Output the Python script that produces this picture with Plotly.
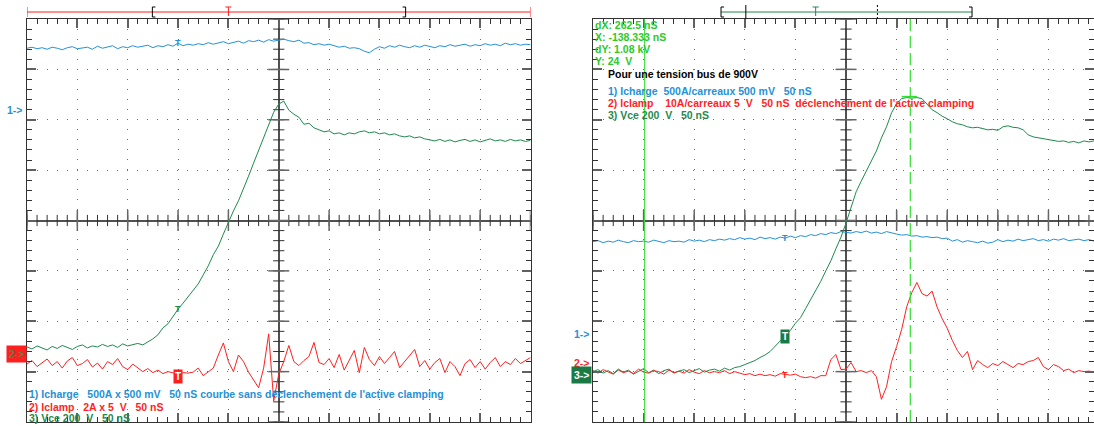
import plotly.graph_objects as go

W, H = 1094, 426

# ---------------- data (time in ns from screen centre, 50 ns/div; values in screen divisions) -------------
t_left = list(range(-250, 251, 5))
t_right = list(range(-250, 246, 5))

left_icharge = [3.42, 3.44, 3.41, 3.43, 3.40, 3.44, 3.42, 3.39, 3.43, 3.45,
                3.41, 3.43, 3.44, 3.40, 3.46, 3.42, 3.44, 3.47, 3.41, 3.45,
                3.43, 3.47, 3.44, 3.46, 3.48, 3.43, 3.47, 3.45, 3.49, 3.46,
                3.52, 3.47, 3.50, 3.48, 3.51, 3.49, 3.53, 3.50, 3.52, 3.55,
                3.51, 3.54, 3.56, 3.52, 3.57, 3.55, 3.58, 3.54, 3.59, 3.56,
                3.58, 3.60, 3.57, 3.55, 3.58, 3.52, 3.53, 3.49, 3.51, 3.48,
                3.50, 3.47, 3.44, 3.46, 3.42, 3.43, 3.41, 3.36, 3.33, 3.40,
                3.45, 3.42, 3.47, 3.44, 3.48, 3.45, 3.43, 3.47, 3.44, 3.48,
                3.46, 3.43, 3.47, 3.45, 3.49, 3.46, 3.48, 3.50, 3.46, 3.49,
                3.47, 3.51, 3.48, 3.50, 3.47, 3.52, 3.49, 3.51, 3.48, 3.50,
                3.49]

left_iclamp = [-2.85, -2.78, -2.90, -2.82, -2.75, -2.88, -2.80, -2.93, -2.79, -2.72,
               -2.88, -2.84, -2.76, -2.91, -2.83, -2.95, -2.80, -2.86, -2.74, -2.90,
               -2.96, -2.85, -2.92, -3.00, -2.94, -3.02, -2.97, -3.04, -3.00, -3.03,
               -3.05, -3.02, -3.03, -3.01, -2.93, -3.08, -3.01, -2.93, -2.67, -2.43,
               -2.80, -3.00, -2.67, -2.80, -3.01, -3.16, -3.32, -2.93, -2.25, -3.58,
               -3.05, -2.80, -2.48, -2.80, -2.88, -2.78, -2.70, -2.42, -2.82, -2.86,
               -2.74, -2.92, -2.66, -2.97, -2.78, -2.58, -3.02, -2.52, -2.76, -2.88,
               -2.70, -2.84, -2.72, -2.60, -2.92, -2.80, -2.66, -2.56, -2.90, -2.78,
               -2.95, -2.82, -2.74, -3.02, -2.80, -2.90, -3.08, -2.84, -2.76, -2.92,
               -2.80, -2.95, -2.82, -2.72, -2.90, -2.80, -2.86, -2.74, -2.84, -2.78,
               -2.72]

left_vce = [-2.51, -2.55, -2.49, -2.53, -2.57, -2.50, -2.54, -2.48, -2.52, -2.56,
            -2.50, -2.47, -2.53, -2.49, -2.51, -2.46, -2.50, -2.47, -2.52, -2.45,
            -2.49, -2.46, -2.44, -2.47, -2.41, -2.35, -2.27, -2.13, -2.05, -1.90,
            -1.76, -1.64, -1.52, -1.40, -1.26, -1.08, -0.90, -0.68, -0.51, -0.27,
            -0.03, 0.19, 0.39, 0.62, 0.88, 1.14, 1.40, 1.66, 1.91, 2.15,
            2.31, 2.37, 2.19, 2.11, 2.05, 1.91, 1.93, 1.84, 1.80, 1.76,
            1.78, 1.72, 1.74, 1.70, 1.74, 1.72, 1.76, 1.78, 1.74, 1.76,
            1.72, 1.74, 1.70, 1.72, 1.68, 1.66, 1.68, 1.64, 1.66, 1.62,
            1.60, 1.58, 1.61, 1.57, 1.60, 1.56, 1.59, 1.61, 1.57, 1.60,
            1.56, 1.59, 1.62, 1.58, 1.60, 1.57, 1.61, 1.58, 1.60, 1.57,
            1.59]

right_icharge = [-0.42, -0.40, -0.44, -0.41, -0.43, -0.39, -0.42, -0.44, -0.40, -0.42,
                 -0.41, -0.43, -0.39, -0.42, -0.44, -0.40, -0.42, -0.41, -0.43, -0.38,
                 -0.41, -0.39, -0.42, -0.38, -0.40, -0.37, -0.39, -0.36, -0.38, -0.34,
                 -0.37, -0.35, -0.38, -0.33, -0.36, -0.34, -0.37, -0.33, -0.35, -0.31,
                 -0.34, -0.30, -0.32, -0.28, -0.30, -0.26, -0.28, -0.24, -0.26, -0.22,
                 -0.23, -0.25, -0.22, -0.24, -0.21, -0.25, -0.23, -0.26, -0.22, -0.25,
                 -0.27, -0.29, -0.28, -0.31, -0.30, -0.33, -0.32, -0.34, -0.33, -0.36,
                 -0.35, -0.41, -0.38, -0.43, -0.40, -0.42, -0.44, -0.41, -0.45, -0.43,
                 -0.38, -0.42, -0.39, -0.41, -0.37, -0.40, -0.38, -0.36, -0.40, -0.38,
                 -0.41, -0.37, -0.39, -0.36, -0.40, -0.38, -0.37, -0.40, -0.38, -0.41]

right_iclamp = [-2.98, -3.03, -2.96, -3.01, -3.05, -2.97, -3.02, -2.99, -3.04, -2.95,
                -3.01, -3.03, -2.98, -3.00, -3.05, -2.97, -3.02, -2.99, -3.03, -2.96,
                -3.01, -3.04, -2.98, -3.02, -3.00, -3.02, -2.98, -3.04, -3.00, -3.03,
                -3.06, -3.04, -3.08, -3.05, -3.08, -3.06, -3.09, -3.04, -3.06, -3.07,
                -3.05, -3.10, -3.12, -3.10, -3.13, -3.08, -3.08, -2.76, -2.66, -2.96,
                -2.95, -2.82, -3.00, -2.98, -3.02, -2.98, -3.10, -3.55, -3.30, -2.80,
                -2.50, -2.16, -1.71, -1.43, -1.23, -1.45, -1.50, -1.40, -1.72, -1.95,
                -2.14, -2.38, -2.58, -2.72, -2.60, -2.96, -2.78, -2.86, -2.92, -2.84,
                -2.88, -2.80, -2.86, -2.92, -2.84, -2.86, -2.80, -2.78, -2.72, -2.90,
                -2.96, -2.86, -2.90, -2.98, -2.95, -3.02, -2.98, -3.00, -2.99, -3.01]

right_vce = [-3.00, -2.96, -3.03, -2.98, -3.04, -2.95, -3.01, -2.97, -3.05, -2.99,
             -2.94, -3.02, -2.97, -3.04, -2.98, -2.95, -3.03, -2.99, -2.96, -3.02,
             -2.98, -2.94, -3.01, -2.97, -2.95, -2.99, -2.93, -2.97, -2.92, -2.90,
             -2.86, -2.82, -2.78, -2.72, -2.67, -2.60, -2.50, -2.40, -2.30, -2.18,
             -2.04, -1.93, -1.75, -1.57, -1.40, -1.21, -1.00, -0.80, -0.56, -0.33,
             -0.05, 0.25, 0.57, 0.78, 0.97, 1.16, 1.38, 1.64, 1.86, 2.14,
             2.32, 2.42, 2.44, 2.43, 2.44, 2.42, 2.32, 2.20, 2.14, 2.07,
             2.02, 1.96, 1.92, 1.90, 1.86, 1.84, 1.85, 1.82, 1.80, 1.81,
             1.79, 1.86, 1.88, 1.85, 1.84, 1.80, 1.70, 1.66, 1.64, 1.62,
             1.60, 1.59, 1.57, 1.58, 1.55, 1.57, 1.54, 1.58, 1.56, 1.58]

# channel ground markers (divisions)
left_ground = {"1": 2.19, "2": -2.65}
right_ground = {"1": -2.26, "2": -2.82, "3": -3.07}

# trigger marker times (ns)
left_trig_t = -100
right_trig_t = -60

# cursors (right panel, ns / div)
cursor_x1 = -199
cursor_x2 = 63.5
cursor_y = 2.46
cursor_y_span = [55, 70]

# acquisition bars (ns)
left_bar = dict(start=-250, end=250, open=-125.5, close=126, trig=-50)
right_bar = dict(open=-123.5, close=124.5, mark=-99, trig=-30, dashed=31)

cursor_text = ["dX: 262.5 nS", "X: -138.333 nS", "dY: 1.08 kV", "Y: 24  V"]
right_title = "Pour une tension bus de 900V"
right_labels = ["1) Icharge  500A/carreaux 500 mV   50 nS",
                "2) Iclamp    10A/carreaux 5  V   50 nS  déclenchement de l'active clamping",
                "3) Vce 200  V   50 nS"]
left_labels = ["1) Icharge   500A x 500 mV   50 nS courbe sans déclenchement de l'active clamping",
               "2) Iclamp   2A x 5  V   50 nS",
               "3) Vce 200  V   50 nS"]

# ---------------- styling ----------------
BLUE = "#2591d6"
RED = "#ff1f1f"
GREEN = "#1f8a4d"
CUR = "#33dd33"
CURTXT = "#2bc92b"
AX = "#333333"
GRID = "#6e6e6e"
FONT = "Liberation Sans"
FS = 10.5


def px(x):
    return x / W


def py(y):
    return 1 - y / H


fig = go.Figure()

# crosshair ticks on the centre lines
for xa, ya, xmax in (("x", "y", 250), ("x2", "y2", 240)):
    minor_x = [v for v in range(-250, xmax + 1, 10)]
    major_x = [v for v in range(-250, xmax + 1, 50)]
    minor_y = [i / 5 for i in range(-20, 21)]
    major_y = [float(i) for i in range(-4, 5)]
    fig.add_trace(go.Scatter(x=minor_x, y=[0] * len(minor_x), mode="markers", xaxis=xa, yaxis=ya,
                             marker=dict(symbol="line-ns", size=8, line=dict(width=1, color=AX)),
                             hoverinfo="skip"))
    fig.add_trace(go.Scatter(x=major_x, y=[0] * len(major_x), mode="markers", xaxis=xa, yaxis=ya,
                             marker=dict(symbol="line-ns", size=15, line=dict(width=1.5, color="#666666")),
                             hoverinfo="skip"))
    fig.add_trace(go.Scatter(x=[0] * len(minor_y), y=minor_y, mode="markers", xaxis=xa, yaxis=ya,
                             marker=dict(symbol="line-ew", size=8, line=dict(width=1, color=AX)),
                             hoverinfo="skip"))
    fig.add_trace(go.Scatter(x=[0] * len(major_y), y=major_y, mode="markers", xaxis=xa, yaxis=ya,
                             marker=dict(symbol="line-ew", size=15, line=dict(width=1.5, color="#666666")),
                             hoverinfo="skip"))

# waveforms
for t, vals, col, xa, ya in (
        (t_left, left_icharge, BLUE, "x", "y"),
        (t_left, left_vce, GREEN, "x", "y"),
        (t_left, left_iclamp, RED, "x", "y"),
        (t_right, right_icharge, BLUE, "x2", "y2"),
        (t_right, right_vce, GREEN, "x2", "y2"),
        (t_right, right_iclamp, RED, "x2", "y2")):
    fig.add_trace(go.Scatter(x=t, y=vals, mode="lines", xaxis=xa, yaxis=ya,
                             line=dict(color=col, width=1), hoverinfo="skip"))

common = dict(showgrid=True, gridcolor=GRID, griddash="1px,9px", gridwidth=1,
              zeroline=True, zerolinecolor="#505050", zerolinewidth=1.5,
              showline=True, linecolor=AX, linewidth=1, mirror="allticks",
              ticks="inside", ticklen=9, tickwidth=1.5, tickcolor="#606060",
              showticklabels=False, fixedrange=True)

ydom = [py(422), py(19)]
fig.update_layout(
    width=W, height=H, margin=dict(l=0, r=0, t=0, b=0),
    paper_bgcolor="white", plot_bgcolor="white", showlegend=False,
    xaxis=dict(domain=[px(27), px(530.5)], range=[-250, 250], dtick=50, tick0=0, anchor="y",
               minor=dict(dtick=10, ticks="inside", ticklen=5, tickcolor=AX, tickwidth=1, showgrid=False),
               **common),
    yaxis=dict(domain=ydom, range=[-4, 4], dtick=1, tick0=0, anchor="x",
               minor=dict(dtick=0.2, ticks="inside", ticklen=5, tickcolor=AX, tickwidth=1, showgrid=False),
               **common),
    xaxis2=dict(domain=[px(593), 1.0], range=[-250, 245], dtick=50, tick0=0, anchor="y2",
                minor=dict(dtick=10, ticks="inside", ticklen=5, tickcolor=AX, tickwidth=1, showgrid=False),
                **common),
    yaxis2=dict(domain=ydom, range=[-4, 4], dtick=1, tick0=0, anchor="x2",
                minor=dict(dtick=0.2, ticks="inside", ticklen=5, tickcolor=AX, tickwidth=1, showgrid=False),
                **common),
)

shapes = []


def seg(xref, x0, x1, y0, y1, color, width=1, dash="solid", yref="paper"):
    shapes.append(dict(type="line", xref=xref, yref=yref, x0=x0, x1=x1, y0=y0, y1=y1,
                       line=dict(color=color, width=width, dash=dash), layer="above"))


def bracket(xref, x, side, color="black"):
    seg(xref, x, x, py(7), py(17), color)
    seg(xref, x, x + 3 * side, py(7), py(7), color)
    seg(xref, x, x + 3 * side, py(17), py(17), color)


def tmark(xref, x, color):
    seg(xref, x - 3, x + 3, py(7), py(7), color)
    seg(xref, x, x, py(7), py(16), color)


# left acquisition bar
seg("x", left_bar["start"], left_bar["end"], py(12), py(12), RED)
seg("x", left_bar["start"], left_bar["start"], py(7), py(17), RED)
seg("x", left_bar["end"], left_bar["end"], py(7), py(17), RED)
bracket("x", left_bar["open"], 1)
bracket("x", left_bar["close"], -1)
tmark("x", left_bar["trig"], RED)

# right acquisition bar
seg("x2", right_bar["open"], right_bar["close"], py(12), py(12), GREEN)
bracket("x2", right_bar["open"], 1)
bracket("x2", right_bar["close"], -1)
seg("x2", right_bar["mark"], right_bar["mark"], py(5), py(19), "black")
seg("x2", right_bar["dashed"], right_bar["dashed"], py(5), py(19), "black", dash="2px,2px")
tmark("x2", right_bar["trig"], GREEN)

# cursors
seg("x2", cursor_x1, cursor_x1, -4, 4, CUR, 1, yref="y2")
seg("x2", cursor_x2, cursor_x2, -4, 4, CUR, 1.2, dash="12px,5px", yref="y2")
seg("x2", cursor_y_span[0], cursor_y_span[1], cursor_y, cursor_y, CUR, 1.5, yref="y2")

fig.update_layout(shapes=shapes)

ann = []


def text(x, y, s, color, xanchor="left", size=FS, **kw):
    d = dict(x=x, y=y, xref="paper", yref="paper", text=s, showarrow=False, xanchor=xanchor,
             yanchor="middle", font=dict(family=FONT, size=size, color=color, weight="bold"))
    d.update(kw)
    ann.append(d)


# right-panel texts
for i, s in enumerate(cursor_text):
    text(px(593), py(25 + 12 * i), s, CURTXT)
text(px(606), py(74), right_title, "black")
for s, col, yy in zip(right_labels, (BLUE, RED, GREEN), (91, 103, 115)):
    text(px(606), py(yy), s, col)
# left-panel texts
for s, col, yy in zip(left_labels, (BLUE, RED, GREEN), (394, 407, 418)):
    text(px(27), py(yy), s, col)

# ground markers
ann.append(dict(x=px(24), y=left_ground["1"], xref="paper", yref="y", text="1->", showarrow=False,
                xanchor="right", yanchor="middle", font=dict(family=FONT, size=FS, color=BLUE, weight="bold")))
ann.append(dict(x=px(27), y=left_ground["2"], xref="paper", yref="y", text="2->", showarrow=False,
                xanchor="right", yanchor="middle", bgcolor=RED, borderpad=2,
                font=dict(family=FONT, size=FS, color="#3f8a4a", weight="bold")))
ann.append(dict(x=px(591), y=right_ground["1"], xref="paper", yref="y2", text="1->", showarrow=False,
                xanchor="right", yanchor="middle", font=dict(family=FONT, size=FS, color=BLUE, weight="bold")))
ann.append(dict(x=px(591), y=right_ground["2"], xref="paper", yref="y2", text="2->", showarrow=False,
                xanchor="right", yanchor="middle", font=dict(family=FONT, size=FS, color=RED, weight="bold")))
ann.append(dict(x=px(592), y=right_ground["3"], xref="paper", yref="y2", text="3->", showarrow=False,
                xanchor="right", yanchor="middle", bgcolor="#1a7a45", borderpad=2,
                font=dict(family=FONT, size=FS, color="white", weight="bold")))

# trigger markers on traces
li = t_left.index(left_trig_t)
ri = t_right.index(right_trig_t)
for xr, yr, t0, yv, col in (("x", "y", left_trig_t, left_icharge[li], BLUE),
                            ("x", "y", left_trig_t, left_vce[li], GREEN),
                            ("x2", "y2", right_trig_t, right_icharge[ri], BLUE),
                            ("x2", "y2", right_trig_t, right_iclamp[ri], RED)):
    ann.append(dict(x=t0, y=yv, xref=xr, yref=yr, text="T", showarrow=False,
                    font=dict(family=FONT, size=9, color=col, weight="bold")))
for xr, yr, t0, yv, col in (("x", "y", left_trig_t, left_iclamp[li] - 0.05, RED),
                            ("x2", "y2", right_trig_t, right_vce[ri], "#1a7a45")):
    ann.append(dict(x=t0, y=yv, xref=xr, yref=yr, text="T", showarrow=False, bgcolor=col, borderpad=1,
                    font=dict(family=FONT, size=10, color="white", weight="bold")))

fig.update_layout(annotations=ann)

fig.write_html("out.html", config={"displayModeBar": False},
               post_script="document.body.style.margin='0';document.body.style.overflow='hidden';")
